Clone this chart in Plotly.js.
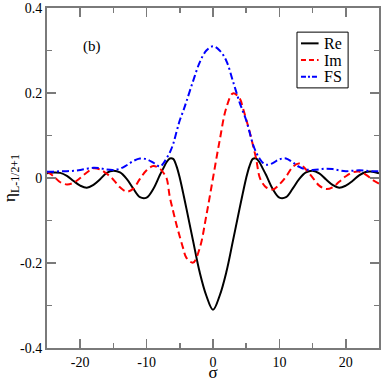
<!DOCTYPE html>
<html>
<head>
<meta charset="utf-8">
<script src="https://cdn.plot.ly/plotly-3.0.1.min.js"></script>
<style>
  html, body { margin: 0; padding: 0; background: #fff; }
  #chart { width: 382px; height: 382px; }
</style>
</head>
<body>
<div id="chart"></div>
<script>
"use strict";

// values, sigma = -25 .. 25 (a few half steps near the middle)
let sigma = [-25, -24, -23, -22, -21, -20, -19, -18, -17, -16, -15, -14, -13, -12, -11, -10, -9, -8, -7.5, -7, -6.5, -6, -5.5, -5, -4.5, -4, -3, -2, -1,
             0, 1, 2, 3, 4, 4.5, 5, 5.5, 6, 6.5, 7, 7.5, 8, 9, 10, 11, 12, 13, 14, 15, 16, 17, 18, 19, 20, 21, 22, 23, 24, 25];

let re = [0.011, 0.013, 0.012, 0.005, -0.007, -0.018, -0.023, -0.016, -0.003, 0.012, 0.017, 0.013, -0.002, -0.025, -0.045, -0.046,
          -0.026, 0.007, 0.022, 0.037, 0.046, 0.045, 0.028, 0.000, -0.035, -0.072, -0.148, -0.222, -0.277,
          -0.310,
          -0.277, -0.222, -0.148, -0.072, -0.035, 0.000, 0.028, 0.045, 0.046, 0.037, 0.022, 0.007, -0.026, -0.046, -0.045, -0.025, -0.002, 0.013, 0.017,
          0.011, -0.003, -0.016, -0.023, -0.018, -0.007, 0.006, 0.014, 0.015, 0.011];

let im = [0.015, 0.004, -0.010, -0.015, -0.011, 0.000, 0.013, 0.023, 0.020, 0.010, -0.004, -0.022, -0.032, -0.025, -0.002, 0.018,
          0.028, 0.022, 0.013, 0.000, -0.045, -0.078, -0.110, -0.138, -0.165, -0.188, -0.199, -0.165, -0.088,
          0,
          0.088, 0.165, 0.199, 0.188, 0.165, 0.138, 0.110, 0.078, 0.045, 0.003, -0.013, -0.022, -0.027, -0.015, 0.003, 0.026, 0.034, 0.020, 0.001,
          -0.018, -0.026, -0.022, -0.009, 0.004, 0.013, 0.015, 0.008, -0.004, -0.013];

let fs = [0.015, 0.015, 0.016, 0.016, 0.017, 0.019, 0.022, 0.024, 0.023, 0.020, 0.019, 0.022, 0.030, 0.040, 0.046, 0.044,
          0.036, 0.027, 0.034, 0.046, 0.060, 0.080, 0.108, 0.136, 0.157, 0.180, 0.228, 0.272, 0.300,
          0.310,
          0.300, 0.276, 0.228, 0.178, 0.157, 0.136, 0.108, 0.080, 0.060, 0.046, 0.036, 0.031, 0.035, 0.044, 0.046, 0.037, 0.026, 0.020, 0.019,
          0.020, 0.022, 0.021, 0.018, 0.016, 0.017, 0.018, 0.017, 0.016, 0.016];

let xTicks = [-20, -10, 0, 10, 20];
let xTickText = ["-20", "-10", "0", "10", "20"];
let yTicks = [-0.4, -0.2, 0, 0.2, 0.4];
let yTickText = ["-0.4", "-0.2", "0", "0.2", "0.4"];

let seriesNames = ["Re", "Im", "FS"];
let seriesColors = ["#000000", "#ff0000", "#0000ff"];
let seriesDash = ["solid", "7px,4px", "7px,3px,2px,3px"];

function main() {
    let font = "Liberation Serif, Times New Roman, serif";
    let ys = [re, im, fs];

    let traces = ys.map((y, i) => ({
        x: sigma,
        y: y,
        name: seriesNames[i],
        type: "scatter",
        mode: "lines",
        line: { color: seriesColors[i], width: 2, dash: seriesDash[i], shape: "spline", smoothing: 1 },
        showlegend: false
    }));

    let axis = {
        showgrid: false,
        zeroline: false,
        showline: true,
        linecolor: "#7a7a7a",
        linewidth: 2,
        mirror: "ticks",
        ticks: "inside",
        ticklen: 9,
        tickwidth: 1.5,
        tickcolor: "#7a7a7a",
        tickfont: { family: font, size: 14, color: "#000" },
        tickmode: "array"
    };

    // hand-made legend box, top right
    let legX0 = 0.753, legX1 = 0.907, legTop = 0.929, legBot = 0.765;
    let rowY = [0.896, 0.847, 0.798];
    let shapes = [{
        type: "rect", xref: "paper", yref: "paper",
        x0: legX0, x1: legX1, y0: legBot, y1: legTop,
        line: { color: "#000", width: 1 }, fillcolor: "rgba(0,0,0,0)"
    }];
    let annotations = [{
        text: "(b)", xref: "x", yref: "y", x: -18.2, y: 0.31,
        showarrow: false, font: { family: font, size: 15, color: "#000" }
    }];
    seriesNames.forEach((name, i) => {
        shapes.push({
            type: "line", xref: "paper", yref: "paper",
            x0: 0.765, x1: 0.818, y0: rowY[i], y1: rowY[i],
            line: { color: seriesColors[i], width: 2, dash: seriesDash[i] === "solid" ? "solid" : (i == 1 ? "5px,3px" : "5px,2px,2px,2px") }
        });
        annotations.push({
            text: name, xref: "paper", yref: "paper", x: 0.829, y: rowY[i],
            xanchor: "left", yanchor: "middle", showarrow: false,
            font: { family: font, size: 16, color: "#000" }
        });
    });

    let layout = {
        width: 382,
        height: 382,
        margin: { l: 47, r: 3, t: 8, b: 34 },
        paper_bgcolor: "#fff",
        plot_bgcolor: "#fff",
        font: { family: font, color: "#000" },
        xaxis: Object.assign({}, axis, {
            range: [-25, 25],
            tickvals: xTicks,
            ticktext: xTickText,
            minor: { tickmode: "linear", tick0: 0, dtick: 5, ticks: "inside", ticklen: 5, tickwidth: 1.5, tickcolor: "#7a7a7a" },
            title: { text: "σ", font: { family: font, size: 17 }, standoff: 2 }
        }),
        yaxis: Object.assign({}, axis, {
            range: [-0.4, 0.4],
            tickvals: yTicks,
            ticktext: yTickText,
            minor: { tickmode: "linear", tick0: 0, dtick: 0.1, ticks: "inside", ticklen: 5, tickwidth: 1.5, tickcolor: "#7a7a7a" },
            title: { text: "η<sub>L-1/2+1</sub>", font: { family: font, size: 17 }, standoff: 4 }
        }),
        shapes: shapes,
        annotations: annotations,
        showlegend: false
    };

    Plotly.newPlot("chart", traces, layout, { staticPlot: true, displayModeBar: false });
}

document.addEventListener("DOMContentLoaded", event => main());
</script>
</body>
</html>
